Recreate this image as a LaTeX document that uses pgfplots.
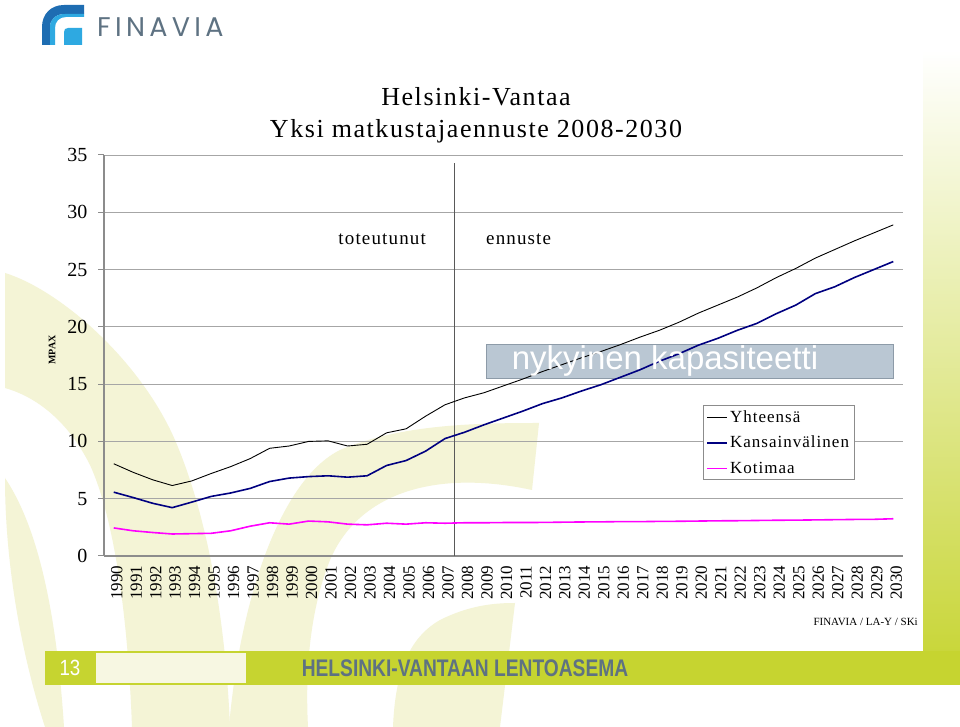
\documentclass[border=0pt]{standalone}
\usepackage{fontspec}
\setmainfont{Liberation Serif}
\newfontfamily\spaced[LetterSpace=6]{Liberation Serif}
\newfontfamily\arial{Liberation Sans}
\newfontfamily\logofont[LetterSpace=16]{Poppins}
\usepackage{pgfplots}
\pgfplotsset{compat=1.18}
\pgfplotsset{
  shortline/.style={legend image code/.code={\draw[##1] (0pt,0pt) -- (20pt,0pt);}},
}

\definecolor{navy}{HTML}{000080}
\definecolor{mag}{HTML}{FF00FF}
\definecolor{pale}{HTML}{F4F4D6}
\definecolor{barGreen}{HTML}{C6D430}
\definecolor{barText}{HTML}{5E7282}
\definecolor{axisgray}{HTML}{8C8C8C}
\definecolor{gridgray}{HTML}{A6A6A6}
\definecolor{capFill}{HTML}{BAC7D3}
\definecolor{capDraw}{HTML}{8D9BA8}
\definecolor{logoDark}{HTML}{1E6DB2}
\definecolor{logoLight}{HTML}{2EA9E1}

\begin{document}
\begin{tikzpicture}[x=1pt,y=1pt]
\path[use as bounding box] (0,0) rectangle (960,727);
\fill[white] (0,0) rectangle (960,727);
% green strip on the right
\shade[top color=white, bottom color=barGreen] (923,677) rectangle (960,42);

% slide decoration, pixel coordinates with y downwards
\begin{scope}[yshift=727pt, yscale=-1]
  % pale swooshes
  \fill[pale] (5,273) .. controls (60,290) and (140,360) .. (175,440)
    .. controls (205,510) and (225,610) .. (230,727) -- (132,727)
    .. controls (128,620) and (115,520) .. (90,465)
    .. controls (65,415) and (30,395) .. (5,388) -- cycle;
  \fill[pale] (5,478) .. controls (5,560) and (20,650) .. (45,727) -- (64,727)
    .. controls (57,620) and (40,530) .. (5,478) -- cycle;
  \fill[pale] (229,727) .. controls (240,600) and (280,480) .. (340,450)
    .. controls (400,425) and (470,423) .. (539,423) -- (532,490)
    .. controls (440,470) and (360,490) .. (330,560)
    .. controls (310,610) and (305,670) .. (308,727) -- cycle;
  \fill[pale] (393,727) .. controls (395,680) and (405,640) .. (440,620)
    .. controls (470,605) and (495,603) .. (515,603) -- (500,727) -- cycle;
  % bottom bar
  \fill[barGreen] (45,651) rectangle (960,685);
  \fill[pale!70!white] (96,653) rectangle (246,683);
  % logo
  \fill[logoDark] (42,45) -- (42,27) .. controls (42,14) and (51,5) .. (64,5)
    -- (84,5) -- (84,14) -- (65,14) .. controls (56,14) and (50,19) .. (50,27)
    -- (50,45) -- cycle;
  \fill[logoLight] (50,45) -- (50,27) .. controls (50,19) and (56,14) .. (65,14)
    -- (84,14) -- (84,17) -- (66,17) .. controls (59,17) and (55,22) .. (55,28)
    -- (55,45) -- cycle;
  \fill[logoLight] (64,45) -- (64,32) .. controls (64,29.5) and (65.5,28) .. (68,28)
    -- (82,28) -- (82,45) -- cycle;
  % capacity box
  \filldraw[fill=capFill, draw=capDraw, line width=1pt] (486,345) rectangle (893,379);
\end{scope}

\begin{axis}[
  at={(104pt,171pt)}, anchor=south west,
  scale only axis, width=799pt, height=401pt,
  xmin=1989.5, xmax=2030.5, ymin=0, ymax=35,
  axis x line*=bottom, axis y line*=left,
  axis line style={draw=axisgray, line width=1.2pt},
  ytick={0,5,...,35},
  ymajorgrids, grid style={gridgray, line width=0.9pt},
  tick align=outside, major tick length=6pt,
  ytick style={draw=axisgray, line width=1pt},
  xtick={1990,...,2030}, xtick style={draw=none},
  /pgf/number format/1000 sep={},
  /pgf/number format/assume math mode=true,
  yticklabel style={font=\fontsize{20}{20}\selectfont, xshift=-7pt},
  xticklabel style={font=\fontsize{17}{17}\selectfont, rotate=90, anchor=east, yshift=-3pt},
  legend style={at={(0.7497,0.3766)}, anchor=north west, draw=axisgray,
    line width=0.8pt, font=\spaced\fontsize{17}{19}\selectfont, inner sep=3pt, row sep=8.5pt},
  legend cell align=left,
  shortline,
]
\pgfplotsinvokeforeach{1989.5,1990.5,...,2030.5}{
  \draw[axisgray, line width=1pt] (axis cs:#1,0) -- ++(0pt,-6pt);
}
\draw[black!65, line width=1.2pt] (axis cs:2007.5,0) -- (axis cs:2007.5,34.3);

\addplot[draw=black, line width=0.9pt] coordinates {
 (1990,8.05) (1991,7.3) (1992,6.65) (1993,6.15) (1994,6.55) (1995,7.2)
 (1996,7.8) (1997,8.5) (1998,9.4) (1999,9.6) (2000,10.0) (2001,10.05)
 (2002,9.6) (2003,9.75) (2004,10.75) (2005,11.1) (2006,12.2) (2007,13.2)
 (2008,13.8) (2009,14.25) (2010,14.85) (2011,15.45) (2012,16.1) (2013,16.7)
 (2014,17.3) (2015,17.85) (2016,18.45) (2017,19.1) (2018,19.7) (2019,20.4)
 (2020,21.2) (2021,21.9) (2022,22.6) (2023,23.4) (2024,24.3) (2025,25.1)
 (2026,26.0) (2027,26.75) (2028,27.5) (2029,28.2) (2030,28.9)
};
\addlegendentry{Yhteensä}
\addplot[draw=navy, line width=1.6pt] coordinates {
 (1990,5.57) (1991,5.1) (1992,4.6) (1993,4.22) (1994,4.7) (1995,5.2)
 (1996,5.5) (1997,5.9) (1998,6.5) (1999,6.8) (2000,6.93) (2001,7.0)
 (2002,6.88) (2003,7.0) (2004,7.9) (2005,8.33) (2006,9.15) (2007,10.25)
 (2008,10.8) (2009,11.45) (2010,12.05) (2011,12.65) (2012,13.3) (2013,13.8)
 (2014,14.4) (2015,14.95) (2016,15.6) (2017,16.25) (2018,17.0) (2019,17.65)
 (2020,18.4) (2021,19.0) (2022,19.7) (2023,20.3) (2024,21.15) (2025,21.9)
 (2026,22.9) (2027,23.5) (2028,24.3) (2029,25.0) (2030,25.7)
};
\addlegendentry{Kansainvälinen}
\addplot[draw=mag, line width=1.6pt] coordinates {
 (1990,2.45) (1991,2.2) (1992,2.05) (1993,1.92) (1994,1.95) (1995,1.98)
 (1996,2.2) (1997,2.6) (1998,2.9) (1999,2.78) (2000,3.05) (2001,2.98)
 (2002,2.78) (2003,2.72) (2004,2.86) (2005,2.78) (2006,2.9) (2007,2.86)
 (2008,2.9) (2009,2.9) (2010,2.92) (2011,2.92) (2012,2.93) (2013,2.95)
 (2014,2.97) (2015,2.98) (2016,3.0) (2017,3.0) (2018,3.02) (2019,3.03)
 (2020,3.05) (2021,3.07) (2022,3.08) (2023,3.1) (2024,3.12) (2025,3.13)
 (2026,3.15) (2027,3.17) (2028,3.19) (2029,3.2) (2030,3.25)
};
\addlegendentry{Kotimaa}
\end{axis}

% texts on top
\begin{scope}[yshift=727pt, yscale=-1]
  \node[anchor=base, text=white, font=\arial\fontsize{33}{33}\selectfont] at (665,370) {nykyinen kapasiteetti};
  \node[anchor=base, font=\spaced\fontsize{26}{26}\selectfont] at (476,106) {Helsinki-Vantaa};
  \node[anchor=base, font=\spaced\fontsize{26}{26}\selectfont] at (476,138) {Yksi matkustajaennuste 2008-2030};
  \node[anchor=base east, font=\spaced\fontsize{19}{19}\selectfont, inner sep=0pt] at (426,245) {toteutunut};
  \node[anchor=base west, font=\spaced\fontsize{19}{19}\selectfont, inner sep=0pt] at (486,245) {ennuste};
  \node[rotate=90, font=\bfseries\fontsize{10}{10}\selectfont] at (52,350) {MPAX};
  \node[anchor=base east, font=\fontsize{11}{11}\selectfont, inner sep=0pt] at (918,626) {FINAVIA / LA-Y / SKi};
  \node[text=white, font=\arial\fontsize{22}{22}\selectfont] at (70,668) {\scalebox{0.85}[1]{13}};
  \node[text=barText, font=\arial\bfseries\fontsize{24}{24}\selectfont] at (465,668) {\scalebox{0.8}[1]{HELSINKI-VANTAAN LENTOASEMA}};
  \node[anchor=base west, inner sep=0pt, text=barText, font=\logofont\fontsize{27}{27}\selectfont] at (97,37) {FINAVIA};
\end{scope}
\end{tikzpicture}
\end{document}
